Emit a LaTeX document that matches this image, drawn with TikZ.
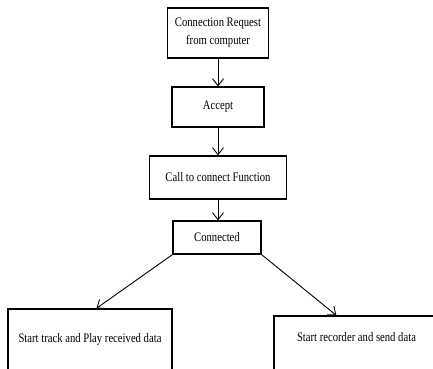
\documentclass[tikz,border=0pt]{standalone}
\usepackage{fontspec}
\setmainfont{Liberation Serif}
\newfontfamily\narrowserif[FakeStretch=0.82]{Liberation Serif}
\usetikzlibrary{arrows.meta}
\begin{document}
\begin{tikzpicture}[x=1pt,y=-1pt,
  box/.style={draw, line width=1.2pt, rectangle, inner sep=0pt, align=center,
    font=\narrowserif\fontsize{13}{18}\selectfont},
  caption/.style={inner sep=0pt, font=\narrowserif\fontsize{13}{15}\selectfont},
  flow/.style={line width=0.9pt,
    -{Straight Barb[length=7pt,width=11pt,line width=0.9pt]}}]
\clip (0,0) rectangle (433,368);
\useasboundingbox (0,0) rectangle (433,368);

% main chain
\node[box, minimum width=101pt, minimum height=50pt] (req) at (218,33)
  {Connection Request\\from computer};
\node[box, minimum width=92pt, minimum height=40pt] (accept) at (218,107) {Accept};
\node[box, minimum width=137pt, minimum height=43pt] (call) at (218,177.5)
  {Call to connect Function};
\node[box, minimum width=88pt, minimum height=33pt] (conn) at (217,237.5) {Connected};

% the two branches (boxes run past the lower edge)
\node[box, minimum width=164pt, minimum height=91pt] (play) at (90,354.5) {};
\node[caption] (playtext) at (90,339) {Start track and Play received data};
\node[box, minimum width=166pt, minimum height=84pt] (rec) at (357,358) {};
\node[caption] (rectext) at (356.5,337) {Start recorder and send data};

% connectors
\draw[flow] (req.south) -- (accept.north);
\draw[flow] (accept.south) -- (call.north);
\draw[flow] (call.south) -- (call.south |- conn.north);
\draw[flow] (conn.south west) -- ([xshift=89pt]play.north west);
\draw[flow] (conn.south east) -- ([xshift=63pt]rec.north west);
\end{tikzpicture}
\end{document}
